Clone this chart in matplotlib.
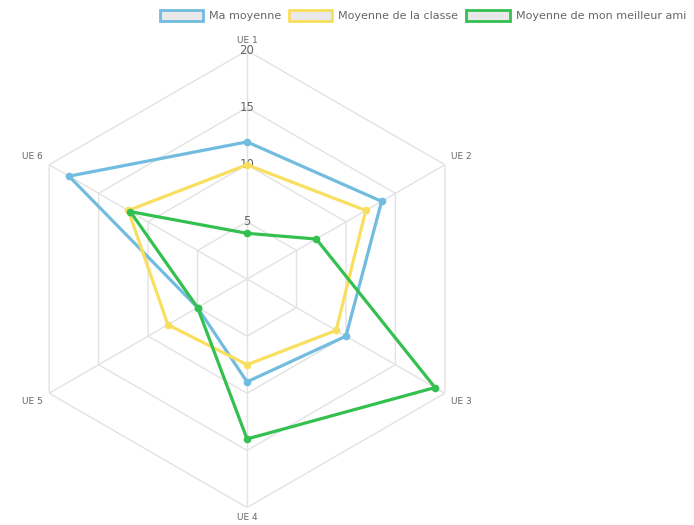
import matplotlib
matplotlib.use("Agg")
from matplotlib import pyplot as plt
from matplotlib.patches import Patch
import numpy as np

labels = ["UE 1", "UE 2", "UE 3", "UE 4", "UE 5", "UE 6"]
ma_moyenne = [12, 13.6, 10, 9, 5, 18]
moyenne_classe = [10, 12, 9, 7.5, 8, 12]
meilleur_ami = [4, 7, 19, 14, 5, 11.8]
ticks = [5, 10, 15, 20]

series = [
    ("Ma moyenne", ma_moyenne, "#72bcdf"),
    ("Moyenne de la classe", moyenne_classe, "#f9df5f"),
    ("Moyenne de mon meilleur ami", meilleur_ami, "#34c04f"),
]

fig = plt.figure(figsize=(6.94, 5.25), dpi=100)
ax = fig.add_axes([0.0267, 0.0333, 0.6585, 0.8705], projection="polar")
ax.set_theta_zero_location("N")
ax.set_theta_direction(-1)
ax.set_ylim(0, 20)
ax.grid(False)
ax.set_xticks([])
ax.set_yticks([])
ax.spines["polar"].set_visible(False)

angles = np.arange(len(labels)) * 2 * np.pi / len(labels)
closed = np.append(angles, angles[0])

# hexagon grid
for t in ticks:
    ax.plot(closed, [t] * len(closed), color="#e2e2e2", lw=1, zorder=1)
for a in angles:
    ax.plot([a, a], [0, 20], color="#e2e2e2", lw=1, zorder=1)

for name, vals, col in series:
    v = vals + vals[:1]
    ax.plot(closed, v, color=col, lw=2.3, zorder=3)
    ax.plot(angles, vals, "o", color=col, ms=4.5, zorder=4)

# tick labels on the top axis
for t in ticks:
    ax.text(0, t, str(t), ha="center", va="center", fontsize=8.5, color="#666666", zorder=2)

# point labels
pos = [(20.5, "center", "bottom"), (20.6, "left", "bottom"), (20.6, "left", "top"),
       (20.5, "center", "top"), (20.6, "right", "top"), (20.6, "right", "bottom")]
for a, lab, (r, ha, va) in zip(angles, labels, pos):
    ax.text(a, r, lab, ha=ha, va=va, fontsize=6.5, color="#666666")

handles = [Patch(facecolor="#e8e8e8", edgecolor=c, linewidth=2) for _, _, c in series]
fig.legend(handles, [s[0] for s in series], loc="upper right", bbox_to_anchor=(1.003, 1.0),
           ncol=3, frameon=False, fontsize=8, handlelength=3.9, handleheight=1.2,
           columnspacing=0.7, handletextpad=0.55, labelcolor="#666666")

fig.savefig("out.png", dpi=100)
